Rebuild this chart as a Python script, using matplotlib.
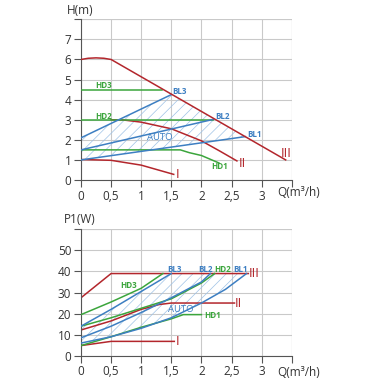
import numpy as np
import matplotlib
matplotlib.use('Agg')
import matplotlib.pyplot as plt

plt.rcParams['font.family'] = ['Open Sans', 'DejaVu Sans']
plt.rcParams['hatch.linewidth'] = 0.5

RED = '#b3262c'
BLUE = '#3d7fc2'
GREEN = '#3ba53c'
HATCH = '#9fc2e6'
GRID = '#c9c9c9'
AXIS = '#555555'

# --- head curves H(m) vs Q(m3/h) ---
h_III_q = [0, 0.12, 0.25, 0.38, 0.5, 3.4]
h_III_v = [6.0, 6.06, 6.08, 6.06, 6.0, 1.0]
h_II_q = [0.5, 0.7, 1.0, 1.5, 2.0, 2.3, 2.59]
h_II_v = [3.0, 2.99, 2.88, 2.55, 1.95, 1.45, 0.95]
h_I_q = [0, 0.5, 1.0, 1.54]
h_I_v = [1.02, 0.98, 0.74, 0.28]
h_BL3_q = [0, 1.5]
h_BL3_v = [2.1, 4.25]
h_BL2_q = [0, 2.2]
h_BL2_v = [1.5, 3.02]
h_BL1_q = [0, 2.73]
h_BL1_v = [1.0, 2.16]
h_HD3_q = [0, 1.34]
h_HD3_v = [4.5, 4.5]
h_HD2_q = [0, 2.2]
h_HD2_v = [3.0, 3.0]
h_HD1_q = [0, 1.65, 1.8, 2.0, 2.29]
h_HD1_v = [1.5, 1.5, 1.36, 1.22, 0.85]

# --- power curves P1(W) vs Q(m3/h) ---
p_III_q = [0, 0.5, 2.78]
p_III_v = [27.5, 39, 39]
p_II_q = [0, 0.5, 1.0, 1.3, 1.5, 2.55]
p_II_v = [12.2, 16.5, 22.0, 24.3, 25, 25]
p_I_q = [0, 0.5, 1.55]
p_I_v = [4.8, 6.8, 6.8]
p_HD3_q = [0, 0.5, 1.0, 1.36]
p_HD3_v = [19.5, 25.5, 32.0, 39]
p_BL3_q = [0, 0.5, 1.0, 1.5]
p_BL3_v = [14.0, 22.0, 30.5, 39]
p_HD2_q = [0, 0.5, 1.0, 1.5, 2.0, 2.22]
p_HD2_v = [14.0, 18.0, 22.5, 27.0, 34.5, 39]
p_BL2_q = [0, 0.5, 1.0, 1.5, 2.0, 2.15]
p_BL2_v = [8.5, 14.0, 20.5, 27.5, 35.0, 39]
p_BL1_q = [0, 0.5, 1.0, 1.5, 2.0, 2.4, 2.75]
p_BL1_v = [6.0, 9.0, 13.0, 18.0, 25.0, 31.5, 39]
p_HD1_q = [0, 0.5, 1.0, 1.5, 1.7, 2.0]
p_HD1_v = [4.8, 9.0, 13.5, 17.5, 19.5, 19.5]

x_ticks = [0, 0.5, 1, 1.5, 2, 2.5, 3, 3.5]
x_labels = ['0', '0,5', '1', '1,5', '2', '2,5', '3', '']


def style_axes(ax, ymax, ystep):
    ax.set_xlim(0, 3.5)
    ax.set_ylim(0, ymax)
    ax.set_xticks(x_ticks)
    ax.set_xticklabels(x_labels)
    yt = list(np.arange(0, ymax + ystep / 2, ystep))
    ax.set_yticks(yt)
    ax.set_yticklabels([f'{v:g}' for v in yt[:-1]] + [''])
    ax.grid(True, color=GRID, lw=0.8)
    ax.set_axisbelow(True)
    for s in ['top', 'right']:
        ax.spines[s].set_visible(False)
    for s in ['left', 'bottom']:
        ax.spines[s].set_color(AXIS)
        ax.spines[s].set_linewidth(0.8)
    ax.tick_params(colors=AXIS, labelcolor='#333333', labelsize=8.5, length=5, width=0.8, pad=2)
    ax.axvline(3.5, color=GRID, lw=0.8, zorder=0)
    ax.axhline(ymax, color=GRID, lw=0.8, zorder=0)


def lbl(ax, x, y, s, c, size=5.8, ha='center', bold=True):
    ax.text(x, y, s, color=c, fontsize=size, ha=ha, va='center', zorder=6,
            fontweight='bold' if bold else 'normal')


fig = plt.figure(figsize=(3.8, 3.8), dpi=100)

# ---------- top chart ----------
ax1 = fig.add_axes([81 / 380, 1 - 180 / 380, 210.7 / 380, 160.7 / 380])
style_axes(ax1, 8, 1)

# hatched AUTO area
poly_q = list(h_BL1_q) + [1.5, 0]
poly_v = list(h_BL1_v) + [4.25, 2.1]
ax1.fill(poly_q, poly_v, facecolor='none', edgecolor=HATCH, hatch='///', lw=0, zorder=1)

lw = 1.1
ax1.plot(h_II_q, h_II_v, color=RED, lw=lw, zorder=2)
ax1.plot(h_I_q, h_I_v, color=RED, lw=lw, zorder=2)
ax1.plot(h_HD3_q, h_HD3_v, color=GREEN, lw=lw, zorder=3)
ax1.plot(h_HD2_q, h_HD2_v, color=GREEN, lw=lw, zorder=3)
ax1.plot(h_HD1_q, h_HD1_v, color=GREEN, lw=lw, zorder=3)
ax1.plot(h_BL3_q, h_BL3_v, color=BLUE, lw=lw, zorder=3)
ax1.plot(h_BL2_q, h_BL2_v, color=BLUE, lw=lw, zorder=3)
ax1.plot(h_BL1_q, h_BL1_v, color=BLUE, lw=lw, zorder=3)
ax1.plot(h_III_q, h_III_v, color=RED, lw=lw, zorder=4)

lbl(ax1, 0.37, 4.68, 'HD3', GREEN)
lbl(ax1, 0.37, 3.18, 'HD2', GREEN)
lbl(ax1, 2.3, 0.67, 'HD1', GREEN)
lbl(ax1, 1.64, 4.4, 'BL3', BLUE)
lbl(ax1, 2.35, 3.18, 'BL2', BLUE)
lbl(ax1, 2.88, 2.28, 'BL1', BLUE)
lbl(ax1, 1.31, 2.13, 'AUTO', BLUE, size=6.8, bold=False)
lbl(ax1, 1.6, 0.28, 'I', RED, size=9.5, bold=False)
lbl(ax1, 2.68, 0.83, 'II', RED, size=9.5, bold=False)
lbl(ax1, 3.41, 1.33, 'III', RED, size=9.5, bold=False)

fig.text(80 / 380, 1 - 10 / 380, 'H(m)', ha='center', va='center', fontsize=8.5, color='#333333')
fig.text(277 / 380, 1 - 192.7 / 380, 'Q(m³/h)', ha='left', va='center', fontsize=8.5, color='#333333')

# ---------- bottom chart ----------
ax2 = fig.add_axes([81 / 380, 1 - 355.7 / 380, 210.7 / 380, 126.4 / 380])
style_axes(ax2, 60, 10)

poly_q = list(p_BL1_q) + [1.5] + list(p_BL3_q[::-1])
poly_v = list(p_BL1_v) + [39] + list(p_BL3_v[::-1])
ax2.fill(poly_q, poly_v, facecolor='none', edgecolor=HATCH, hatch='///', lw=0, zorder=1)

ax2.plot(p_I_q, p_I_v, color=RED, lw=lw, zorder=2)
ax2.plot(p_II_q, p_II_v, color=RED, lw=lw, zorder=2)
ax2.plot(p_HD1_q, p_HD1_v, color=GREEN, lw=lw, zorder=3)
ax2.plot(p_HD2_q, p_HD2_v, color=GREEN, lw=lw, zorder=3)
ax2.plot(p_HD3_q, p_HD3_v, color=GREEN, lw=lw, zorder=3)
ax2.plot(p_BL1_q, p_BL1_v, color=BLUE, lw=lw, zorder=3)
ax2.plot(p_BL2_q, p_BL2_v, color=BLUE, lw=lw, zorder=3)
ax2.plot(p_BL3_q, p_BL3_v, color=BLUE, lw=lw, zorder=3)
ax2.plot(p_III_q, p_III_v, color=RED, lw=lw, zorder=2)

lbl(ax2, 0.79, 33.3, 'HD3', GREEN)
lbl(ax2, 2.35, 40.8, 'HD2', GREEN)
lbl(ax2, 2.18, 19.3, 'HD1', GREEN)
lbl(ax2, 1.55, 40.8, 'BL3', BLUE)
lbl(ax2, 2.06, 40.8, 'BL2', BLUE)
lbl(ax2, 2.65, 40.8, 'BL1', BLUE)
lbl(ax2, 1.65, 21.8, 'AUTO', BLUE, size=6.8, bold=False)
lbl(ax2, 1.6, 6.8, 'I', RED, size=9.5, bold=False)
lbl(ax2, 2.62, 25, 'II', RED, size=9.5, bold=False)
lbl(ax2, 2.87, 38.8, 'III', RED, size=9.5, bold=False)

fig.text(80 / 380, 1 - 219.3 / 380, 'P1(W)', ha='center', va='center', fontsize=8.5, color='#333333')
fig.text(277 / 380, 1 - 372.5 / 380, 'Q(m³/h)', ha='left', va='center', fontsize=8.5, color='#333333')

fig.savefig('out.png', dpi=100, facecolor='white')
